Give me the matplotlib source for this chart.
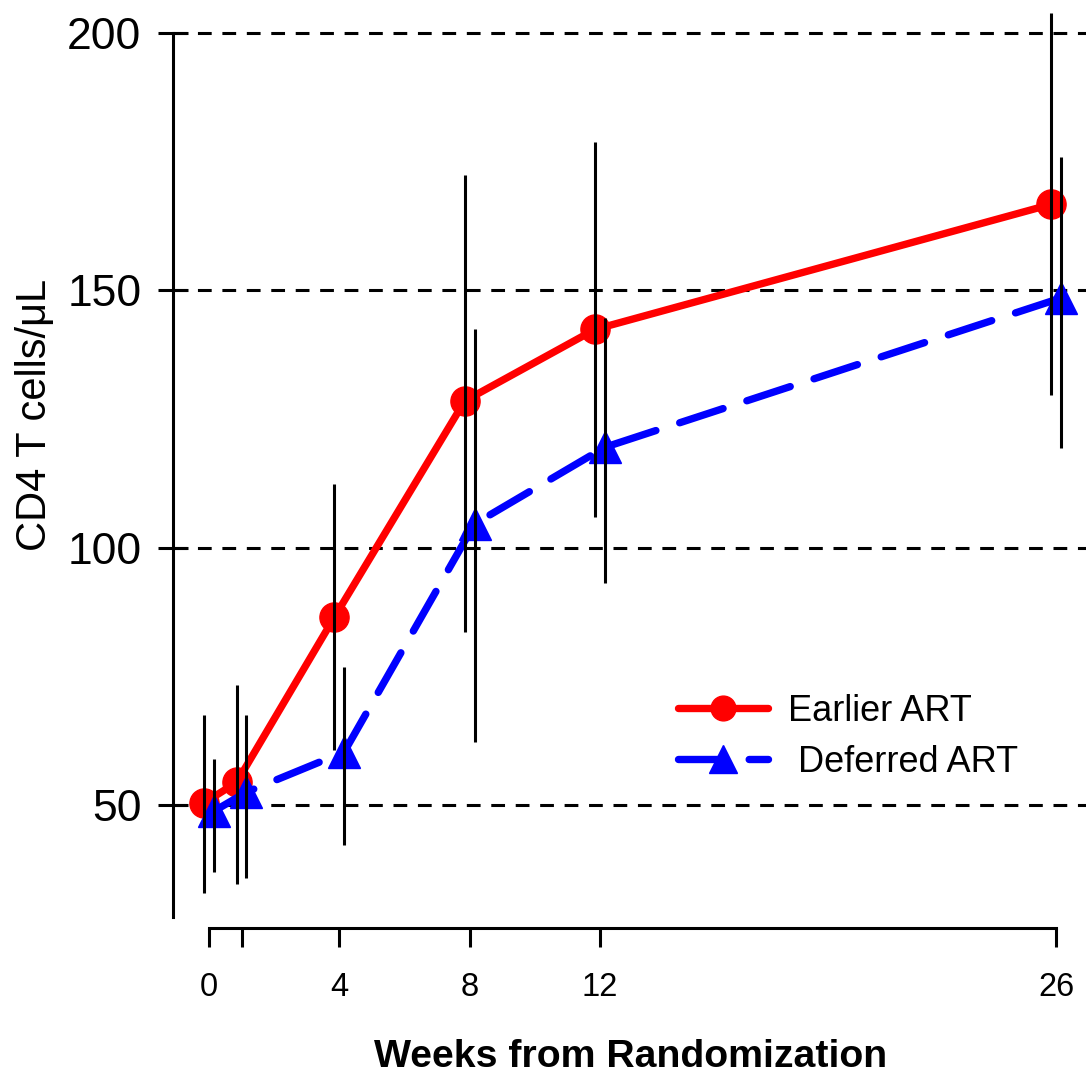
import matplotlib
matplotlib.use("Agg")
import matplotlib.pyplot as plt
import numpy as np

plt.rcParams["font.family"] = ["Liberation Sans", "DejaVu Sans"]

# データ
weeks = [0, 1, 4, 8, 12, 26]
week_labels = ["0", "", "4", "8", "12", "26"]

earlier_mean = [50.4, 54.4, 86.5, 128.5, 142.4, 166.7]
earlier_lo = [32.9, 34.7, 60.6, 83.6, 105.9, 129.6]
earlier_hi = [67.4, 73.3, 112.3, 172.4, 178.8, 203.8]

deferred_mean = [48.8, 52.5, 60.3, 104.6, 119.5, 148.5]
deferred_lo = [37.0, 35.9, 42.2, 62.3, 93.1, 119.3]
deferred_hi = [58.9, 67.5, 76.8, 142.5, 144.6, 175.8]

y_ticks = [50, 100, 150, 200]

# 点をずらして重ならないように
dodge = 0.15
x_early = np.array(weeks) - dodge
x_def = np.array(weeks) + dodge

fig = plt.figure(figsize=(10.86, 10.74), dpi=100, facecolor="w")
ax = fig.add_axes([173 / 1086, 1 - 928 / 1074, 1 - 173 / 1086, 928 / 1074])

# 水平の点線
for v in y_ticks:
    ax.axhline(v, color="black", lw=2.2, linestyle=(0, (4.5, 3.5)), zorder=1)

ax.plot(x_early, earlier_mean, color="red", lw=5.3, marker="o", ms=21,
        solid_capstyle="round", zorder=3, label="Earlier ART")
ax.plot(x_def, deferred_mean, color="blue", lw=5.3, marker="^", ms=23,
        linestyle=(0, (6.2, 3.4)), dash_capstyle="round", zorder=4,
        label=" Deferred ART")

# エラーバー
ax.vlines(x_early, earlier_lo, earlier_hi, color="black", lw=2.2, zorder=5)
ax.vlines(x_def, deferred_lo, deferred_hi, color="black", lw=2.2, zorder=5)

ax.set_xlim(-1.105, 26.92)
ax.set_ylim(26.1, 206.4)

for s in ["top", "right"]:
    ax.spines[s].set_visible(False)
ax.spines["left"].set_bounds(28.2, 200)
ax.spines["bottom"].set_bounds(0, 26)
ax.spines["left"].set_linewidth(2.2)
ax.spines["bottom"].set_linewidth(2.2)

ax.set_yticks(y_ticks)
ax.set_yticklabels([str(v) for v in y_ticks])
ax.tick_params(axis="y", direction="inout", length=21.6, width=2.2,
               labelsize=32, pad=12)
ax.set_xticks(weeks)
ax.set_xticklabels(week_labels)
ax.tick_params(axis="x", direction="out", length=13.7, width=2.2,
               labelsize=23.5, pad=18)

fig.text(35 / 1086, 1 - 415 / 1074, "CD4 T cells/\u03bcL", rotation=90,
         ha="center", va="center", fontsize=30)
fig.text(631 / 1086, 1 - 1057 / 1074, "Weeks from Randomization",
         ha="center", va="center", fontsize=28.3, fontweight="bold")

ax.legend(loc="center left", bbox_to_anchor=((678 - 173) / 913, (928 - 737) / 928),
          frameon=False, fontsize=26, handlelength=2.5, handletextpad=0.55,
          borderpad=0, borderaxespad=0, labelspacing=0.45, markerscale=0.85)

plt.savefig("out.png", dpi=100)
